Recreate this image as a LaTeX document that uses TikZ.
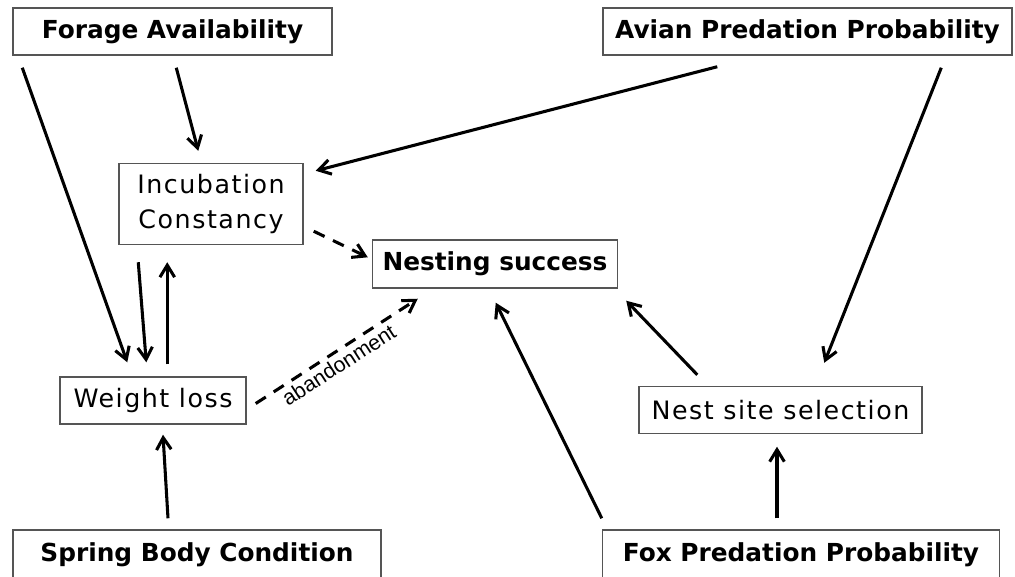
\documentclass[tikz,border=0pt]{standalone}
\usepackage{fontspec}
\setmainfont{DejaVu Sans}
\newfontfamily\plainfont[LetterSpace=6]{DejaVu Sans}
\newfontfamily\labelfont{Liberation Sans}
\usetikzlibrary{arrows.meta}
\definecolor{boxgray}{HTML}{555555}
\begin{document}
\begin{tikzpicture}[x=0.75pt,y=-0.75pt,
  box/.style={draw=boxgray, line width=1.1pt, rectangle, inner sep=0pt, fill=white},
  titlebox/.style={box, font=\fontsize{18.6}{22}\selectfont\bfseries},
  plainbox/.style={box, font=\plainfont\fontsize{19}{26}\selectfont, align=center},
  arr/.style={line width=2.3pt, -{Straight Barb[length=9pt,width=11pt]}},
  darr/.style={arr, dash pattern=on 9pt off 7pt}]
\useasboundingbox (0,0) rectangle (1015,576);

\node[titlebox, minimum width=319*0.75pt, minimum height=47*0.75pt] (forage) at (172.5,31.5) {Forage Availability};
\node[titlebox, minimum width=409*0.75pt, minimum height=47*0.75pt] (avian) at (807.5,31.5) {Avian Predation Probability};
\node[plainbox, minimum width=184*0.75pt, minimum height=81*0.75pt] (incub) at (211,204) {Incubation\\Constancy};
\node[titlebox, minimum width=245*0.75pt, minimum height=48*0.75pt] (nesting) at (495,264) {Nesting success};
\node[plainbox, minimum width=186*0.75pt, minimum height=47*0.75pt] (weight) at (153,400.5) {Weight loss};
\node[plainbox, minimum width=283*0.75pt, minimum height=47*0.75pt] (nestsite) at (780.5,410) {Nest site selection};
\node[titlebox, minimum width=368*0.75pt, minimum height=50*0.75pt] (spring) at (197,555) {Spring Body Condition};
\node[titlebox, minimum width=397*0.75pt, minimum height=50*0.75pt] (fox) at (801,555) {Fox Predation Probability};

\draw[arr] ([shift={(10,12)}]forage.south west) -- ([shift={(68,-14)}]weight.north west);
\draw[arr] ([shift={(164,12)}]forage.south west) -- ([shift={(80,-12)}]incub.north west);
\draw[arr] ([shift={(20,17)}]incub.south west) -- ([shift={(87,-14)}]weight.north west);
\draw[arr] ([shift={(108,-12)}]weight.north west) -- ([shift={(49,17)}]incub.south west);
\draw[arr] ([shift={(115,11)}]avian.south west) -- ([shift={(12,8)}]incub.north east);
\draw[arr] ([shift={(339,12)}]avian.south west) -- ([shift={(186,-23)}]nestsite.north west);
\draw[darr] ([shift={(10,-14)}]incub.south east) -- ([shift={(-4,18)}]nesting.north west);
\draw[darr] ([shift={(9,3)}]weight.east) -- node[sloped, below=2.5pt, pos=0.47, inner sep=0pt, font=\labelfont\fontsize{16}{18}\selectfont] {abandonment} ([shift={(46,10)}]nesting.south west);
\draw[arr] ([shift={(0,-11)}]fox.north west) -- ([shift={(124,14)}]nesting.south west);
\draw[arr] ([shift={(59,-11)}]nestsite.north west) -- ([shift={(8,12)}]nesting.south east);
\draw[arr] ([shift={(-24,-11)}]fox.north) -- ([shift={(-3.5,12.5)}]nestsite.south);
\draw[arr] ([shift={(-29,-11)}]spring.north) -- ([shift={(10,10)}]weight.south);
\end{tikzpicture}
\end{document}
